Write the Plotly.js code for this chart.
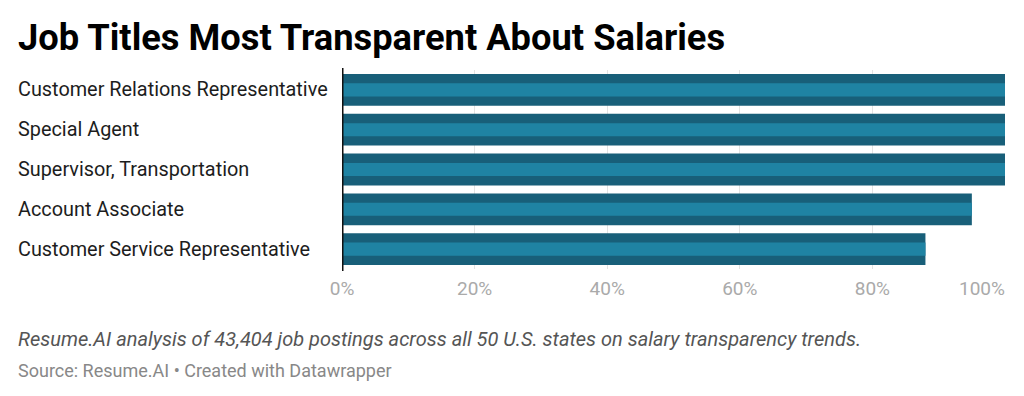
<!DOCTYPE html>
<html>
<head>
<meta charset="utf-8">
<script src="https://cdn.plot.ly/plotly-3.0.1.min.js"></script>
<style>
html,body{margin:0;padding:0;background:#fff;}
#chart{width:1024px;height:396px;}
</style>
</head>
<body>
<div id="chart"></div>
<script>
const categories = [
  "Customer Relations Representative",
  "Special Agent",
  "Supervisor, Transportation",
  "Account Associate",
  "Customer Service Representative"
];
const values = [100, 100, 100, 95, 88];
const tickValues = [0, 20, 40, 60, 80, 100];
const tickLabels = ["0%", "20%", "40%", "60%", "80%", "100%"];
const titleText = "Job Titles Most Transparent About Salaries";
const captionText = "Resume.AI analysis of 43,404 job postings across all 50 U.S. states on salary transparency trends.";
const sourceText = "Source: Resume.AI • Created with Datawrapper";

const darkColor = "#185f79";
const lightColor = "#1f83a3";

const traces = [
  {
    type: "bar", orientation: "h",
    x: values, y: categories,
    width: 0.8,
    marker: {color: darkColor, line: {width: 0}},
    hoverinfo: "skip"
  },
  {
    type: "bar", orientation: "h",
    x: values, y: categories,
    width: 0.33,
    marker: {color: lightColor, line: {width: 0}},
    hoverinfo: "skip"
  }
];

const plotLeft = 342, plotRight = 1005, W = 1024;
const plotW = plotRight - plotLeft;
const plotTop = 70, plotBottom = 269, plotH = plotBottom - plotTop;
const leftX = (16 - plotLeft) / plotW;

const annotations = categories.map(c => ({
  xref: "paper", yref: "y",
  x: leftX, y: c,
  xanchor: "left", yanchor: "middle",
  text: c, showarrow: false,
  font: {family: "Roboto", size: 19.85, color: "#1d1d1d"}
}));

annotations.push({
  xref: "paper", yref: "paper",
  x: 1 + 2 / plotW, y: -(288 - plotBottom) / plotH, xanchor: "right", yanchor: "middle",
  text: tickLabels[tickLabels.length - 1], showarrow: false,
  font: {family: "Roboto", size: 19, color: "#aaaaaa"}
});
annotations.push({
  xref: "paper", yref: "paper",
  x: leftX, y: 1 + (plotTop - 38) / plotH,
  xanchor: "left", yanchor: "middle",
  text: "<b>" + titleText + "</b>", showarrow: false,
  font: {family: "Roboto", size: 36.3, color: "#000000"}
});
annotations.push({
  xref: "paper", yref: "paper",
  x: leftX, y: -(339 - plotBottom) / plotH,
  xanchor: "left", yanchor: "middle",
  text: "<i>" + captionText + "</i>", showarrow: false,
  font: {family: "Roboto", size: 20, color: "#555555"}
});
annotations.push({
  xref: "paper", yref: "paper",
  x: leftX, y: -(370 - plotBottom) / plotH,
  xanchor: "left", yanchor: "middle",
  text: sourceText, showarrow: false,
  font: {family: "Roboto", size: 18, color: "#888888"}
});

const layout = {
  width: 1024, height: 396,
  margin: {l: plotLeft, r: W - plotRight, t: plotTop, b: 396 - plotBottom, pad: 0},
  paper_bgcolor: "#ffffff", plot_bgcolor: "#ffffff",
  barmode: "overlay",
  showlegend: false,
  xaxis: {
    range: [0, 100],
    tickvals: tickValues.slice(0, -1),
    ticktext: tickLabels.slice(0, -1),
    showgrid: true, gridcolor: "#e3e3e3", gridwidth: 1,
    zeroline: false, showline: false, ticks: "",
    ticklabelstandoff: 6,
    tickfont: {family: "Roboto", size: 19, color: "#aaaaaa"},
    fixedrange: true
  },
  yaxis: {
    autorange: "reversed",
    showticklabels: false, showgrid: false, zeroline: false,
    showline: false, ticks: "", fixedrange: true
  },
  shapes: [{
    type: "line", xref: "x", yref: "paper",
    x0: 0, x1: 0, y0: -0.01, y1: 1.01,
    line: {color: "#111111", width: 3}
  }],
  annotations: annotations
};

Plotly.newPlot("chart", traces, layout, {displayModeBar: false, staticPlot: true});
</script>
</body>
</html>
